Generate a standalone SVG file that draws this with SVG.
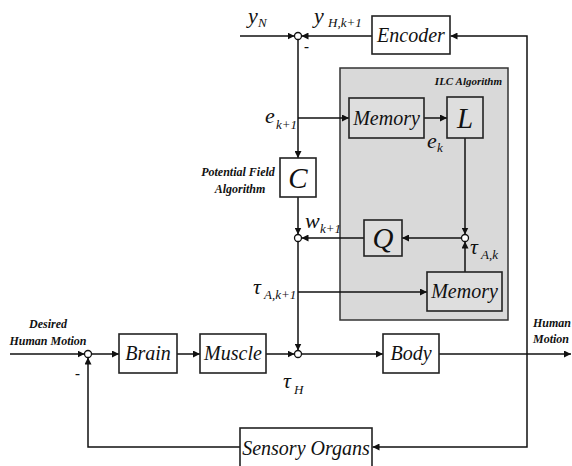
<svg xmlns="http://www.w3.org/2000/svg" width="572" height="466" viewBox="0 0 572 466" font-family="Liberation Serif">
<defs>
<marker id="ah" viewBox="0 0 10 10" refX="10" refY="5" markerWidth="7" markerHeight="7" markerUnits="userSpaceOnUse" orient="auto">
<path d="M0,0 L10,5 L0,10 z" fill="#111"/>
</marker>
<style>
.ln{fill:none;stroke:#111;stroke-width:1.5;marker-end:url(#ah)}
.box{fill:#fff;stroke:#222;stroke-width:1.6}
.gbox{fill:#dedede;stroke:#222;stroke-width:1.6}
.sum{fill:#fff;stroke:#111;stroke-width:1.3}
text{font-family:'Liberation Serif','Times New Roman',serif;font-style:italic;fill:#111}
.bl{font-size:20px;text-anchor:middle}
.big{font-size:29px;text-anchor:middle}
.var{font-size:22px}
.sub{font-size:13px}
.lab{font-size:12px;font-weight:bold}
.minus{font-size:15px;font-style:normal;font-weight:bold}
</style>
</defs>
<rect x="340" y="68" width="168" height="252" fill="#d9d9d9" stroke="#333" stroke-width="1.5"/>
<text x="502" y="85" font-size="11" text-anchor="end" font-weight="bold">ILC Algorithm</text>

<g id="connectors">
<path class="ln" d="M240 36 H294.5"/>
<path class="ln" d="M372 36 H301.5"/>
<path class="ln" d="M527 354 V36 H450.5"/>
<path class="ln" d="M527 354 V447 H372.5"/>
<path class="ln" d="M298 39.5 V158"/>
<path class="ln" d="M298 118 H349"/>
<path class="ln" d="M424 118 H447"/>
<path class="ln" d="M465 138 V234.5"/>
<path class="ln" d="M461.5 238 H402"/>
<path class="ln" d="M364 238 H301.5"/>
<path class="ln" d="M298 197 V234.5"/>
<path class="ln" d="M465 272 V241.5"/>
<path class="ln" d="M298 241.5 V350.5"/>
<path class="ln" d="M298 292 H427"/>
<path class="ln" d="M10 354 H84.5"/>
<path class="ln" d="M91.5 354 H119"/>
<path class="ln" d="M177 354 H200"/>
<path class="ln" d="M266 354 H294.5"/>
<path class="ln" d="M301.5 354 H383"/>
<path class="ln" d="M439 354 H571"/>
<path class="ln" d="M240 447 H88 V357.5"/>
</g>

<g id="sum_top"><circle class="sum" cx="298" cy="36" r="3.5"/></g>
<g id="sum_w"><circle class="sum" cx="298" cy="238" r="3.5"/></g>
<g id="sum_ilc"><circle class="sum" cx="465" cy="238" r="3.5"/></g>
<g id="sum_main"><circle class="sum" cx="298" cy="354" r="3.5"/></g>
<g id="sum_desired"><circle class="sum" cx="88" cy="354" r="3.5"/></g>

<g id="encoder"><rect class="box" x="372" y="16" width="78" height="38"/><text class="bl" x="411" y="42" font-size="21">Encoder</text></g>
<g id="memory1"><rect class="gbox" x="349" y="98" width="75" height="40"/><text class="bl" x="386.5" y="125">Memory</text></g>
<g id="L"><rect class="gbox" x="447" y="97" width="36" height="41"/><text class="big" x="465" y="128">L</text></g>
<g id="C"><rect class="box" x="280" y="158" width="36" height="39"/><text class="big" x="298" y="188">C</text></g>
<g id="Q"><rect class="gbox" x="364" y="220" width="38" height="36"/><text class="big" x="383" y="248" font-size="27">Q</text></g>
<g id="memory2"><rect class="gbox" x="427" y="272" width="75" height="39"/><text class="bl" x="464.5" y="298">Memory</text></g>
<g id="brain"><rect class="box" x="119" y="334" width="58" height="39"/><text class="bl" x="148" y="360">Brain</text></g>
<g id="muscle"><rect class="box" x="200" y="334" width="66" height="39"/><text class="bl" x="233" y="360">Muscle</text></g>
<g id="body"><rect class="box" x="383" y="334" width="56" height="39"/><text class="bl" x="411" y="360">Body</text></g>
<g id="sensory"><rect class="box" x="240" y="428" width="132" height="46"/><text class="bl" x="306" y="455">Sensory Organs</text></g>

<g id="labels">
<text class="var" x="248" y="23">y</text><text class="sub" x="258" y="27">N</text>
<text class="var" x="314" y="23">y</text><text class="sub" x="328" y="27">H,k+1</text>
<text class="minus" x="304" y="51">-</text>
<text class="var" x="265" y="123">e</text><text class="sub" x="276" y="129">k+1</text>
<text class="var" x="427" y="148">e</text><text class="sub" x="437" y="152" font-size="11">k</text>
<text class="lab" x="238" y="176" text-anchor="middle">Potential Field</text>
<text class="lab" x="240" y="193" text-anchor="middle">Algorithm</text>
<text class="var" x="305" y="228">w</text><text class="sub" x="320" y="233">k+1</text>
<text class="var" x="470" y="254">τ</text><text class="sub" x="481" y="259" font-size="12">A,k</text>
<text class="var" x="253" y="294">τ</text><text class="sub" x="264" y="299" font-size="12">A,k+1</text>
<text class="var" x="283" y="388">τ</text><text class="sub" x="294" y="394" font-size="12">H</text>
<text class="lab" x="48" y="328" text-anchor="middle">Desired</text>
<text class="lab" x="48" y="345" text-anchor="middle">Human Motion</text>
<text class="minus" x="75" y="378">-</text>
<text class="lab" x="533" y="327">Human</text>
<text class="lab" x="533" y="343">Motion</text>
</g>
</svg>
